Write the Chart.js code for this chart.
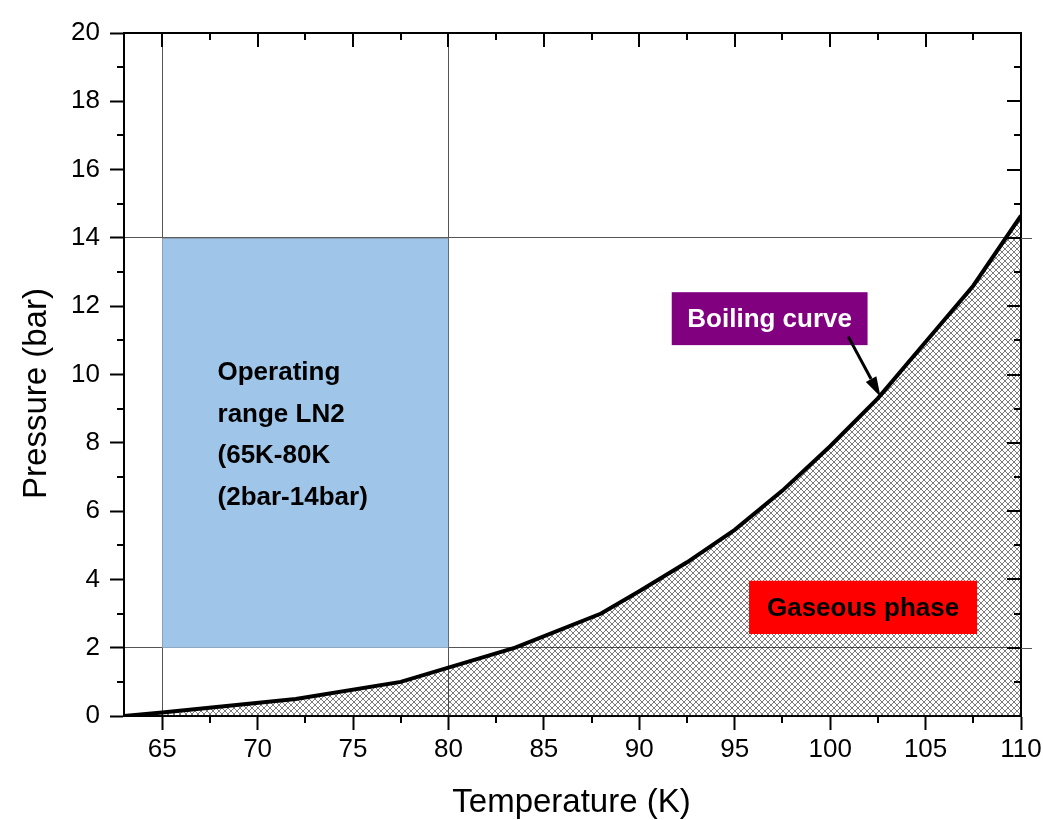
<!DOCTYPE html>
<html>
<head>
<meta charset="utf-8">
<script src="https://cdn.jsdelivr.net/npm/chart.js@4.4.0/dist/chart.umd.min.js"></script>
<style>
  html, body { margin: 0; padding: 0; background: #ffffff; }
  canvas { display: block; }
</style>
</head>
<body>
<canvas id="chart" width="1043" height="820"></canvas>
<script>
// Nitrogen boiling curve: saturation pressure vs temperature
const temperatureK = [63, 65, 72, 77.5, 83.5, 88, 90, 92.5, 95, 97.5, 100, 102.5, 105, 107.5, 110];
const pressureBar  = [0, 0.1, 0.5, 1.0, 2.0, 3.0, 3.65, 4.5, 5.45, 6.6, 7.9, 9.3, 10.95, 12.6, 14.65];

// LN2 operating window
const rangeTemperature = [65, 80];
const rangePressure = [2, 14];

// Axis ticks
const xTickValues = [65, 70, 75, 80, 85, 90, 95, 100, 105, 110];
const yTickValues = [0, 2, 4, 6, 8, 10, 12, 14, 16, 18, 20];
const xGridValues = [65, 80];
const yGridValues = [2, 14];

// Texts
const operatingText = ['Operating', 'range LN2', '(65K-80K', '(2bar-14bar)'];
const boilingLabel = 'Boiling curve';
const gaseousLabel = 'Gaseous phase';
const xTitle = 'Temperature (K)';
const yTitle = 'Pressure (bar)';

const FONT = "Arial, 'Liberation Sans', Helvetica, sans-serif";

// Annotation placement, in data units
const notes = {
  operating: { x: 67.9, y: 9.84, step: 41.7 },
  boiling: { x0: 91.7, x1: 101.96, y0: 10.86, y1: 12.41, from: [100.95, 11.11], to: [102.64, 9.35] },
  gaseous: { x0: 95.75, x1: 107.7, y0: 2.40, y1: 3.96 }
};

function crossHatch() {
  const s = 6;
  const c = document.createElement('canvas');
  c.width = s; c.height = s;
  const g = c.getContext('2d');
  g.strokeStyle = 'rgba(30,30,30,0.58)';
  g.lineWidth = 1;
  g.beginPath();
  for (const dx of [-s, 0, s]) {
    g.moveTo(dx, 0); g.lineTo(dx + s, s);
    g.moveTo(dx + s, 0); g.lineTo(dx, s);
  }
  g.stroke();
  return g.createPattern(c, 'repeat');
}

const curvePoints = temperatureK.map((t, i) => ({ x: t, y: pressureBar[i] }));
const windowTop = rangeTemperature.map(t => ({ x: t, y: rangePressure[1] }));

function midpoints(arr) {
  const out = [];
  for (let i = 0; i < arr.length - 1; i++) out.push((arr[i] + arr[i + 1]) / 2);
  return out;
}

// Spines on top/right, mirrored inward ticks, minor ticks, grid overhang, axis titles
const framePlugin = {
  id: 'frame',
  afterDraw(chart) {
    const { ctx, chartArea: a, scales: { x, y } } = chart;
    const major = 14, minor = 7;
    ctx.save();
    ctx.strokeStyle = '#000';
    ctx.lineWidth = 2;
    ctx.beginPath();
    ctx.moveTo(a.left - 1, a.top); ctx.lineTo(a.right + 1, a.top);
    ctx.moveTo(a.right, a.top); ctx.lineTo(a.right, a.bottom + 1);
    // top ticks (inward)
    for (const v of xTickValues) { const p = Math.round(x.getPixelForValue(v)); ctx.moveTo(p, a.top); ctx.lineTo(p, a.top + major); }
    for (const v of midpoints(xTickValues)) { const p = Math.round(x.getPixelForValue(v)); ctx.moveTo(p, a.top); ctx.lineTo(p, a.top + minor); }
    // bottom minor ticks (outward)
    for (const v of midpoints(xTickValues)) { const p = Math.round(x.getPixelForValue(v)); ctx.moveTo(p, a.bottom); ctx.lineTo(p, a.bottom + minor); }
    // right ticks (inward)
    for (const v of yTickValues) { const p = Math.round(y.getPixelForValue(v)); ctx.moveTo(a.right, p); ctx.lineTo(a.right - major, p); }
    for (const v of midpoints(yTickValues)) { const p = Math.round(y.getPixelForValue(v)); ctx.moveTo(a.right, p); ctx.lineTo(a.right - minor, p); }
    // left minor ticks (outward)
    for (const v of midpoints(yTickValues)) { const p = Math.round(y.getPixelForValue(v)); ctx.moveTo(a.left, p); ctx.lineTo(a.left - minor, p); }
    ctx.stroke();
    // horizontal reference lines run slightly past the right spine
    ctx.strokeStyle = '#555';
    ctx.lineWidth = 1;
    ctx.beginPath();
    for (const v of yGridValues) { const p = Math.round(y.getPixelForValue(v)) + 0.5; ctx.moveTo(a.right, p); ctx.lineTo(a.right + 11, p); }
    ctx.stroke();

    // axis titles
    ctx.fillStyle = '#000';
    ctx.font = '33px ' + FONT;
    ctx.textAlign = 'center';
    ctx.textBaseline = 'alphabetic';
    ctx.fillText(xTitle, (a.left + a.right) / 2 - 1, 812);
    ctx.translate(46, (a.top + a.bottom) / 2 + 19);
    ctx.rotate(-Math.PI / 2);
    ctx.fillText(yTitle, 0, 0);
    ctx.restore();
  }
};

const notesPlugin = {
  id: 'notes',
  afterDatasetsDraw(chart) {
    const { ctx, scales: { x, y } } = chart;
    ctx.save();
    ctx.font = 'bold 26px ' + FONT;
    ctx.textBaseline = 'alphabetic';

    // operating window caption
    const o = notes.operating;
    ctx.fillStyle = '#000';
    ctx.textAlign = 'left';
    operatingText.forEach((line, i) => {
      ctx.fillText(line, x.getPixelForValue(o.x), y.getPixelForValue(o.y) + i * o.step);
    });

    // labelled boxes
    const box = (b, fill, color, text) => {
      const l = x.getPixelForValue(b.x0), r = x.getPixelForValue(b.x1);
      const t = y.getPixelForValue(b.y1), btm = y.getPixelForValue(b.y0);
      ctx.fillStyle = fill;
      ctx.fillRect(l, t, r - l, btm - t);
      ctx.fillStyle = color;
      ctx.textAlign = 'center';
      ctx.textBaseline = 'middle';
      ctx.fillText(text, (l + r) / 2, (t + btm) / 2 + 1);
    };
    box(notes.boiling, '#800080', '#ffffff', boilingLabel);
    box(notes.gaseous, '#ff0000', '#000000', gaseousLabel);

    // arrow to the curve
    const b = notes.boiling;
    const x1 = x.getPixelForValue(b.from[0]), y1 = y.getPixelForValue(b.from[1]);
    const x2 = x.getPixelForValue(b.to[0]), y2 = y.getPixelForValue(b.to[1]);
    const ang = Math.atan2(y2 - y1, x2 - x1);
    const head = 20, half = 6;
    const bx = x2 - head * Math.cos(ang), by = y2 - head * Math.sin(ang);
    ctx.strokeStyle = '#000';
    ctx.lineWidth = 3;
    ctx.beginPath();
    ctx.moveTo(x1, y1); ctx.lineTo(bx, by);
    ctx.stroke();
    ctx.fillStyle = '#000';
    ctx.beginPath();
    ctx.moveTo(x2, y2);
    ctx.lineTo(bx + half * Math.sin(ang), by - half * Math.cos(ang));
    ctx.lineTo(bx - half * Math.sin(ang), by + half * Math.cos(ang));
    ctx.closePath();
    ctx.fill();
    ctx.restore();
  }
};

const bgPlugin = {
  id: 'bg',
  beforeDraw(chart) {
    const { ctx, width, height } = chart;
    ctx.save();
    ctx.fillStyle = '#ffffff';
    ctx.fillRect(0, 0, width, height);
    ctx.restore();
  }
};

const tickFont = { family: FONT, size: 26 };

new Chart(document.getElementById('chart'), {
  type: 'line',
  data: {
    datasets: [
      {
        label: 'Boiling curve',
        data: curvePoints,
        borderColor: '#000000',
        borderWidth: 4,
        backgroundColor: crossHatch(),
        fill: 'origin',
        pointRadius: 0,
        tension: 0,
        order: 1
      },
      {
        label: 'Operating range LN2',
        data: windowTop,
        borderColor: '#666666',
        borderWidth: 1,
        backgroundColor: '#9fc5e8',
        fill: { value: rangePressure[0] },
        pointRadius: 0,
        tension: 0,
        order: 2
      }
    ]
  },
  options: {
    responsive: false,
    devicePixelRatio: 1,
    animation: false,
    layout: { padding: { top: 33, right: 22, left: 0, bottom: 0 } },
    plugins: { legend: { display: false }, tooltip: { enabled: false } },
    scales: {
      x: {
        type: 'linear',
        min: temperatureK[0],
        max: temperatureK[temperatureK.length - 1],
        afterBuildTicks: s => { s.ticks = xTickValues.map(v => ({ value: v })); },
        afterFit: s => { s.height = 104; s.paddingLeft = 0; s.paddingRight = 0; },
        ticks: { color: '#000', font: tickFont, padding: 4, maxRotation: 0, autoSkip: false },
        grid: {
          drawOnChartArea: true,
          drawTicks: true,
          tickLength: 14,
          tickWidth: 2,
          tickColor: '#000',
          lineWidth: 1,
          color: c => (c.tick && xGridValues.includes(c.tick.value)) ? '#555555' : 'rgba(0,0,0,0)'
        },
        border: { display: true, color: '#000', width: 2 }
      },
      y: {
        type: 'linear',
        min: 0,
        max: 20,
        afterBuildTicks: s => { s.ticks = yTickValues.map(v => ({ value: v })); },
        afterFit: s => { s.width = 124; s.paddingTop = 0; s.paddingBottom = 0; },
        ticks: { color: '#000', font: tickFont, padding: 10, autoSkip: false },
        grid: {
          drawOnChartArea: true,
          drawTicks: true,
          tickLength: 14,
          tickWidth: 2,
          tickColor: '#000',
          lineWidth: 1,
          color: c => (c.tick && yGridValues.includes(c.tick.value)) ? '#555555' : 'rgba(0,0,0,0)'
        },
        border: { display: true, color: '#000', width: 2 }
      }
    }
  },
  plugins: [bgPlugin, notesPlugin, framePlugin]
});
</script>
</body>
</html>
